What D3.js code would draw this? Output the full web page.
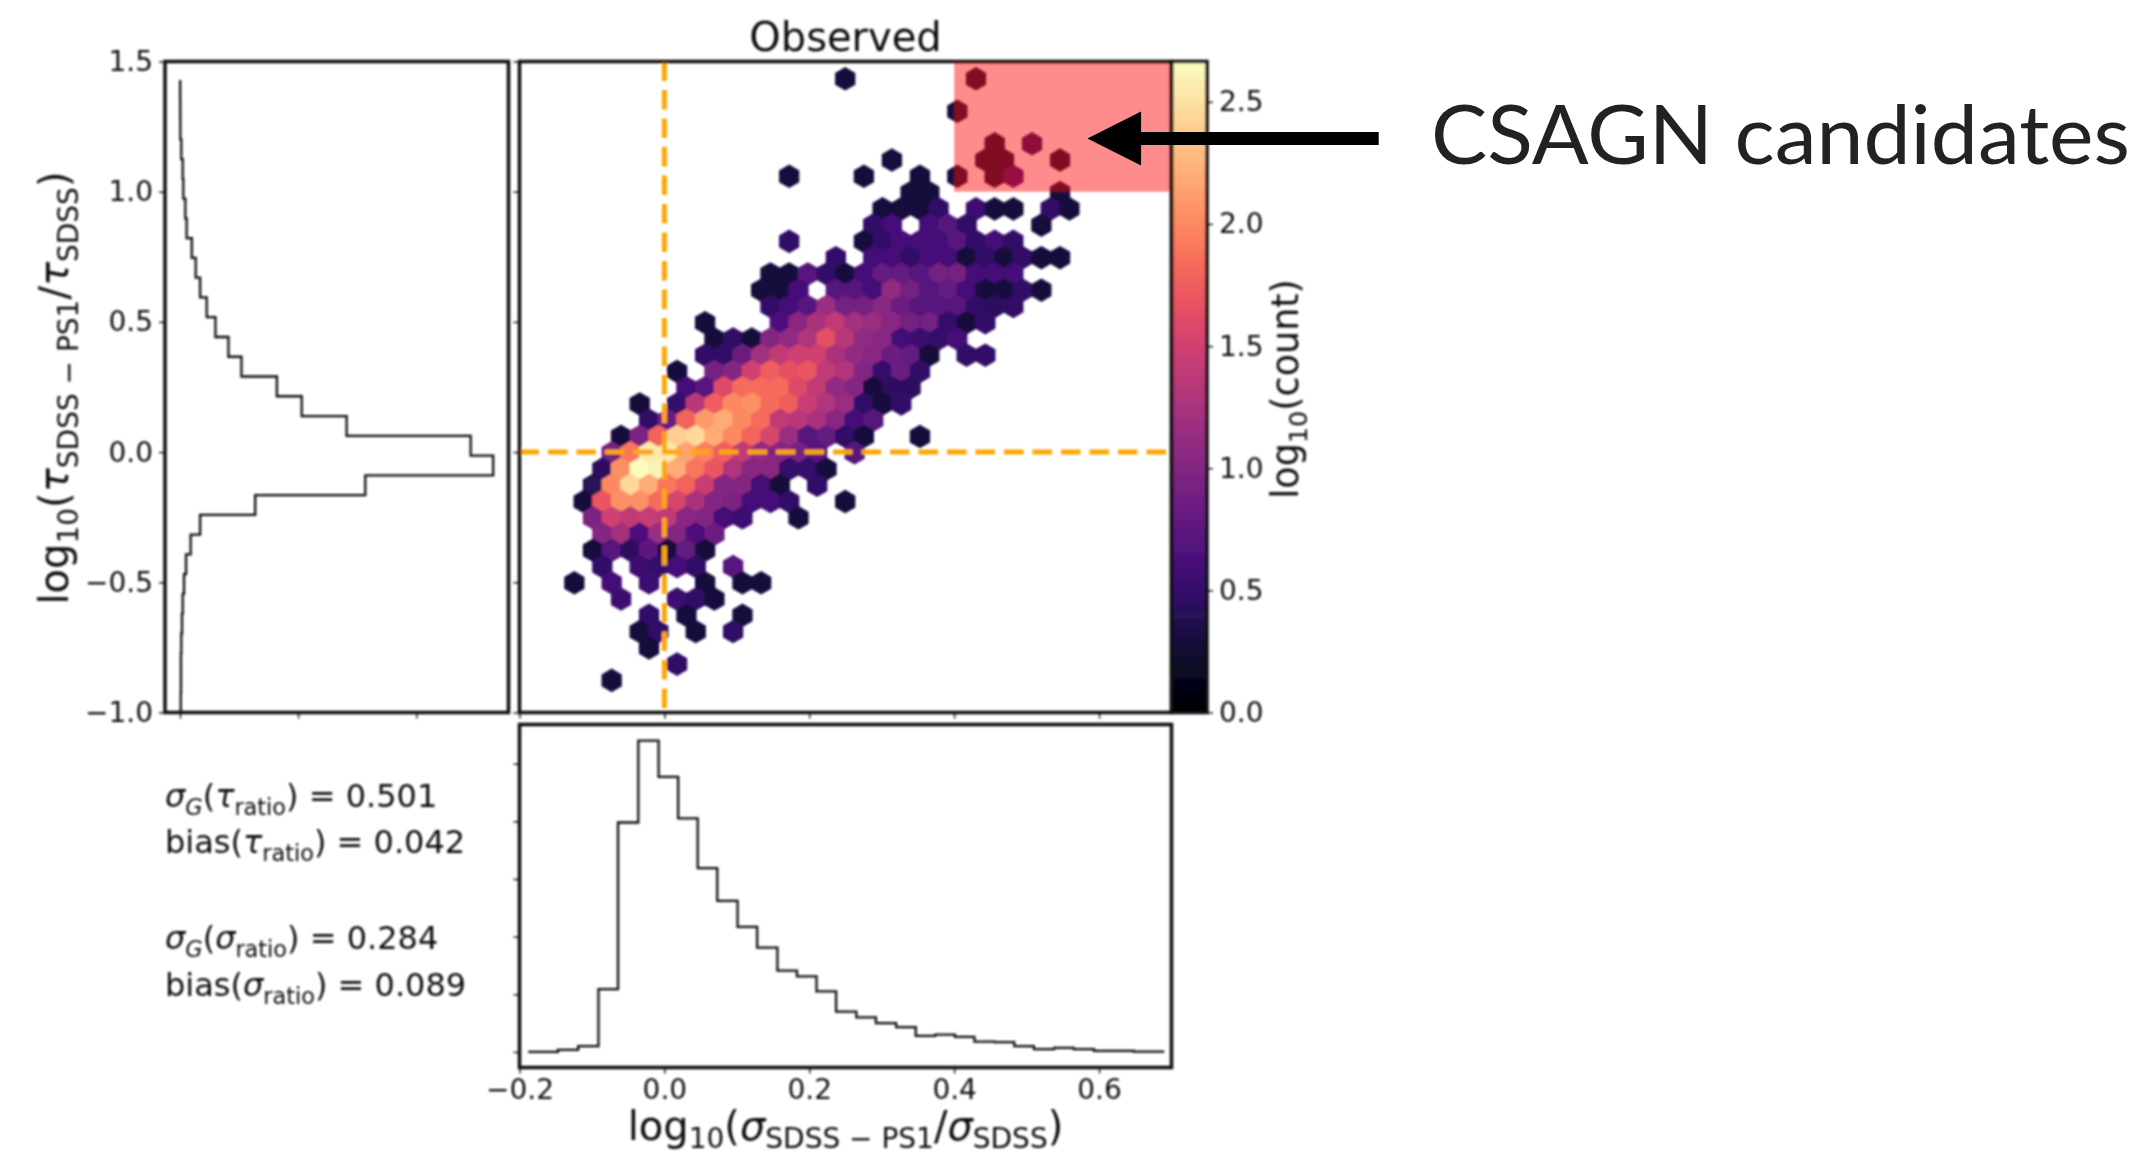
<!DOCTYPE html>
<html>
<head>
<meta charset="utf-8">
<script src="https://cdn.jsdelivr.net/npm/d3@7"></script>
<style>
  html, body { margin: 0; background: #fff; }
  svg { display: block; }
  text { font-family: "DejaVu Sans", sans-serif; fill: #111; }
</style>
</head>
<body>
<svg id="chart" width="2146" height="1155"></svg>
<script>
// Hex grid: one entry per row from the top, columns count half a hex width
let hexOriginX = 0.2496
let hexOriginY = 1.4336
let hexHalfWidth = 0.012894
let hexRowStep = 0.06244

let hexCols = [
  [0, 14], [], [12], [], [16, 20],
  [5, 15, 17, 23],
  [-6, 2, 8, 12, 16, 18],
  [7, 9, 23],
  [4, 6, 8, 10, 14, 16, 18, 22, 24],
  [3, 5, 9, 11, 13, 21],
  [-6, 2, 4, 6, 8, 10, 12, 14, 16, 18],
  [-1, 3, 5, 7, 9, 11, 13, 15, 17, 19, 21, 23],
  [-8, -6, -4, -2, 0, 2, 4, 6, 8, 10, 12, 14, 16, 18],
  [-9, -7, -5, -1, 1, 3, 5, 7, 9, 11, 13, 15, 17, 19, 21],
  [-8, -6, -4, -2, 0, 2, 4, 6, 8, 10, 12, 14, 16, 18],
  [-15, -7, -5, -3, -1, 1, 3, 5, 7, 9, 11, 13, 15],
  [-14, -12, -10, -8, -6, -4, -2, 0, 2, 4, 6, 8, 10, 12],
  [-15, -13, -11, -9, -7, -5, -3, -1, 1, 3, 5, 7, 9, 13, 15],
  [-18, -14, -12, -10, -8, -6, -4, -2, 0, 2, 4, 6, 8],
  [-17, -15, -13, -11, -9, -7, -5, -3, -1, 1, 3, 5, 7],
  [-22, -18, -16, -14, -12, -10, -8, -6, -4, -2, 0, 2, 4, 6],
  [-21, -19, -17, -15, -13, -11, -9, -7, -5, -3, -1, 1, 3],
  [-24, -22, -20, -18, -16, -14, -12, -10, -8, -6, -4, -2, 0, 2, 8],
  [-25, -23, -21, -19, -17, -15, -13, -11, -9, -7, -5, -3, 1],
  [-26, -24, -22, -20, -18, -16, -14, -12, -10, -8, -6, -4, -2],
  [-27, -25, -23, -21, -19, -17, -15, -13, -11, -9, -7, -3],
  [-28, -26, -24, -22, -20, -18, -16, -14, -12, -10, -8, -6, 0],
  [-27, -25, -23, -21, -19, -17, -15, -13, -11, -5],
  [-26, -24, -22, -20, -18, -16, -14],
  [-27, -25, -23, -21, -19, -17, -15],
  [-26, -22, -20, -18, -16, -12],
  [-29, -25, -21, -15, -11, -9],
  [-24, -18, -16, -14],
  [-21, -17, -11],
  [-22, -20, -16, -12],
  [-21],
  [-18],
  [-25]
]

let hexVals = [
  [0.3, 0.3], [], [0.3], [], [0.3, 0.48],
  [0.3, 0.3, 0.3, 0.3],
  [0.3, 0.3, 0.3, 0.3, 0.3, 0.6],
  [0.3, 0.3, 0.3],
  [0.3, 0.3, 0.3, 0.48, 0.55, 0.3, 0.3, 0.48, 0.3],
  [0.48, 0.6, 0.6, 0.7, 0.48, 0.3],
  [0.48, 0.3, 0.48, 0.6, 0.6, 0.6, 0.7, 0.48, 0.6, 0.48],
  [0.48, 0.6, 0.6, 0.48, 0.6, 0.6, 0.3, 0.48, 0.3, 0.48, 0.3, 0.3],
  [0.3, 0.3, 0.7, 0.48, 0.3, 0.6, 0.8, 0.8, 0.7, 0.9, 0.9, 0.6, 0.6, 0.6],
  [0.3, 0.3, 0.6, 0.7, 0.7, 0.6, 1.1, 0.9, 0.7, 0.8, 0.6, 0.3, 0.3, 0.48, 0.3],
  [0.48, 0.6, 0.7, 1.15, 0.9, 0.9, 1.05, 0.85, 0.7, 0.7, 0.7, 0.48, 0.45, 0.48],
  [0.3, 0.65, 1.05, 1.25, 1.4, 1.2, 1.15, 1.05, 0.9, 0.9, 0.5, 0.3, 0.48],
  [0.3, 0.48, 0.3, 1, 1.1, 1.3, 1.65, 1.35, 1.1, 1.05, 0.6, 0.55, 0.5, 0.6],
  [0.48, 0.48, 0.85, 1.2, 1.4, 1.5, 1.5, 1.25, 1.1, 1.05, 0.85, 0.8, 0.3, 0.48, 0.48],
  [0.3, 0.9, 1, 1.5, 1.75, 1.65, 1.7, 1.4, 1.3, 1, 0.5, 0.85, 0.48],
  [0.6, 0.7, 1.6, 1.85, 1.85, 1.85, 1.6, 1.4, 1.1, 1, 0.3, 0.45, 0.45],
  [0.3, 0.5, 1.35, 1.75, 2, 2.05, 1.85, 1.75, 1.45, 1.3, 1.15, 0.48, 0.3, 0.48],
  [0.48, 0.85, 1.8, 2.1, 2.2, 2, 1.85, 1.4, 1.35, 1.25, 1.05, 0.6, 0.7],
  [0.3, 0.95, 1.8, 2.4, 2.45, 2.2, 2, 1.8, 1.55, 1.15, 0.7, 0.8, 0.48, 0.3, 0.3],
  [0.9, 1.9, 2.55, 2.55, 2.15, 1.95, 1.75, 1.4, 1.1, 1, 0.9, 0.7, 0.7],
  [0.45, 2.05, 2.65, 2.6, 2.2, 1.9, 1.7, 1.3, 1.05, 1.05, 0.5, 0.5, 0.3],
  [0.4, 2, 2.45, 2.2, 1.9, 1.8, 1.45, 1, 1, 0.6, 0.3, 0.48],
  [0.3, 1.7, 2.05, 2.05, 1.85, 1.55, 1.25, 1, 0.95, 0.6, 0.6, 0.48, 0.3],
  [0.95, 1.5, 1.4, 1.45, 1.4, 1.05, 1, 0.6, 0.55, 0.3],
  [1, 1.2, 0.65, 1.15, 1, 0.65, 0.85],
  [0.3, 0.7, 0.45, 0.75, 0.3, 0.8, 0.3],
  [0.48, 0.55, 0.5, 0.6, 0.48, 0.7],
  [0.3, 0.6, 0.55, 0.3, 0.3, 0.3],
  [0.55, 0.55, 0.48, 0.3],
  [0.48, 0.3, 0.3],
  [0.3, 0.48, 0.3, 0.48],
  [0.3],
  [0.48],
  [0.3]
]

// Marginal histogram of the tau ratio, bins from the bottom
let tauStart = -1
let tauBinWidth = 0.0759
let tauCounts = [0.006, 0.008, 0.008, 0.011, 0.017, 0.023, 0.034, 0.051, 0.09, 0.17, 0.636, 1.568,
  2.65, 2.46, 1.41, 1.03, 0.82, 0.52, 0.41, 0.3, 0.226, 0.17, 0.133, 0.1, 0.056, 0.045, 0.028,
  0.023, 0.011, 0.003, 0.002, 0.001]

// Marginal histogram of the sigma ratio
let sigmaEdges = [-0.188, -0.147, -0.119, -0.091, -0.064, -0.036, -0.008, 0.019, 0.046, 0.073, 0.101,
  0.128, 0.156, 0.183, 0.21, 0.237, 0.265, 0.292, 0.32, 0.347, 0.374, 0.401, 0.428, 0.456, 0.483,
  0.51, 0.538, 0.565, 0.593, 0.62, 0.648, 0.69]
let sigmaCounts = [0, 0.035, 0.1, 1.09, 3.98, 5.4, 4.77, 4.05, 3.19, 2.62, 2.17, 1.81, 1.41, 1.31, 1.05,
  0.7, 0.6, 0.5, 0.43, 0.28, 0.3, 0.26, 0.18, 0.17, 0.1, 0.05, 0.07, 0.05, 0.02, 0.02, 0.005]

let xTicks = [-0.2, 0, 0.2, 0.4, 0.6]
let yTicks = [-1, -0.5, 0, 0.5, 1, 1.5]
let colorTicks = [0, 0.5, 1, 1.5, 2, 2.5]
let tauCountTicks = [0, 1, 2]
let sigmaCountTicks = [0, 1, 2, 3, 4, 5]
let colorMax = 2.665

let candidateX = [0.4, 0.7]
let candidateY = [1, 1.5]
let arrowY = 1.204
let arrowX = [0.584, 0.658, 0.986]

let statLines = [
  [['σ', 'i'], ['G', 'si'], ['('], ['τ', 'i'], ['ratio', 's'], [') = 0.501']],
  [['bias('], ['τ', 'i'], ['ratio', 's'], [') = 0.042']],
  [['σ', 'i'], ['G', 'si'], ['('], ['σ', 'i'], ['ratio', 's'], [') = 0.284']],
  [['bias('], ['σ', 'i'], ['ratio', 's'], [') = 0.089']]
]
let statBaselines = [807, 853, 949, 996]

let svg = d3.select('#chart')

// Soft filter, the source figure is a resampled screenshot
svg.append('defs').append('filter')
    .attr('id', 'soft')
    .attr('filterUnits', 'userSpaceOnUse')
    .attr('x', 0).attr('y', 0).attr('width', 2146).attr('height', 1155)
  .append('feGaussianBlur')
    .attr('stdDeviation', 0.8)

let plot = svg.append('g').attr('filter', 'url(#soft)')

let main = { left: 519.5, right: 1171.5, top: 61.5, bottom: 712.5 }
let side = { left: 165, right: 508.5 }
let lower = { top: 724.5, bottom: 1067.5 }
let bar = { left: 1171.5, right: 1207 }

let x = d3.scaleLinear().domain([-0.2, 0.7]).range([main.left, main.right])
let y = d3.scaleLinear().domain([-1, 1.5]).range([main.bottom, main.top])
let tauX = d3.scaleLinear().domain([-0.127, 2.78]).range([side.left, side.right])
let sigmaY = d3.scaleLinear().domain([-0.27, 5.68]).range([lower.bottom, lower.top])
let colorY = d3.scaleLinear().domain([0, colorMax]).range([main.bottom, main.top])
let color = v => d3.interpolateMagma(v / colorMax)

// Hexbin cells
let cells = []
hexCols.forEach((cols, r) => {
  cols.forEach((k, i) => {
    cells.push({
      cx: hexOriginX + k * hexHalfWidth,
      cy: hexOriginY - r * hexRowStep,
      v: hexVals[r][i]
    })
  })
})

let hexPath = d => {
  let px = x(d.cx)
  let py = y(d.cy)
  let w = x(hexHalfWidth) - x(0)
  let h = (y(0) - y(hexRowStep)) * 2 / 3
  return d3.line()([
    [px + w, py + h / 2], [px + w, py - h / 2], [px, py - h],
    [px - w, py - h / 2], [px - w, py + h / 2], [px, py + h]
  ]) + 'Z'
}

plot.append('g').selectAll('path')
  .data(cells)
  .join('path')
    .attr('d', hexPath)
    .attr('fill', d => color(d.v))
    .attr('stroke', d => color(d.v))
    .attr('stroke-width', 1.6)

// Reference lines
let refLines = plot.append('g')
    .attr('stroke', '#ffa500')
    .attr('stroke-width', 5)
    .attr('stroke-dasharray', '19.5,9')
refLines.append('line')
    .attr('x1', x(0)).attr('x2', x(0))
    .attr('y1', main.top).attr('y2', main.bottom)
refLines.append('line')
    .attr('x1', main.left).attr('x2', main.right)
    .attr('y1', y(0)).attr('y2', y(0))

// Candidate box
plot.append('rect')
    .attr('x', x(candidateX[0]))
    .attr('y', y(candidateY[1]))
    .attr('width', x(candidateX[1]) - x(candidateX[0]))
    .attr('height', y(candidateY[0]) - y(candidateY[1]))
    .attr('fill', 'red')
    .attr('fill-opacity', 0.45)

// Colorbar
let barSteps = d3.range(0, colorMax, colorMax / 256)
plot.append('g').selectAll('rect')
  .data(barSteps)
  .join('rect')
    .attr('x', bar.left)
    .attr('width', bar.right - bar.left)
    .attr('y', d => colorY(d + colorMax / 256))
    .attr('height', (main.bottom - main.top) / 256 + 1)
    .attr('fill', d => color(d))
    .attr('shape-rendering', 'crispEdges')

// Marginal histograms
let tauPoints = tauCounts.flatMap((c, i) => [
  [tauX(c), y(tauStart + i * tauBinWidth)],
  [tauX(c), y(tauStart + (i + 1) * tauBinWidth)]
])
plot.append('path')
    .attr('d', d3.line()(tauPoints))
    .attr('fill', 'none')
    .attr('stroke', '#111')
    .attr('stroke-width', 2.3)

let sigmaPoints = sigmaCounts.flatMap((c, i) => [
  [x(sigmaEdges[i]), sigmaY(c)],
  [x(sigmaEdges[i + 1]), sigmaY(c)]
])
plot.append('path')
    .attr('d', d3.line()(sigmaPoints))
    .attr('fill', 'none')
    .attr('stroke', '#111')
    .attr('stroke-width', 2.3)

// Axes
let minus = f => v => d3.format(f)(v).replace('-', '\u2212')

function addAxis (axis, tx, ty, noLabels) {
  let g = plot.append('g')
      .attr('transform', 'translate(' + tx + ',' + ty + ')')
      .call(axis.tickSize(6).tickPadding(6))
  g.select('.domain').remove()
  g.selectAll('.tick line').attr('stroke', '#222').attr('stroke-width', 1.5)
  g.selectAll('.tick text')
      .attr('fill', '#111')
      .style('font-family', '"DejaVu Sans", sans-serif')
      .style('font-size', '28px')
  if (noLabels) g.selectAll('.tick text').remove()
  return g
}

addAxis(d3.axisLeft(y).tickValues(yTicks).tickFormat(minus('.1f')), side.left, 0)
addAxis(d3.axisBottom(tauX).tickValues(tauCountTicks), 0, main.bottom, true)
addAxis(d3.axisLeft(y).tickValues(yTicks), main.left, 0, true)
addAxis(d3.axisBottom(x).tickValues(xTicks), 0, main.bottom, true)
addAxis(d3.axisLeft(sigmaY).tickValues(sigmaCountTicks), main.left, 0, true)
addAxis(d3.axisBottom(x).tickValues(xTicks).tickFormat(minus('.1f')), 0, lower.bottom)
addAxis(d3.axisRight(colorY).tickValues(colorTicks).tickFormat(minus('.1f')), bar.right, 0)

// Panel frames
let frames = [
  [side.left, main.top, side.right, main.bottom],
  [main.left, main.top, main.right, main.bottom],
  [main.left, lower.top, main.right, lower.bottom],
  [bar.left, main.top, bar.right, main.bottom]
]
plot.append('g').selectAll('rect')
  .data(frames)
  .join('rect')
    .attr('x', d => d[0])
    .attr('y', d => d[1])
    .attr('width', d => d[2] - d[0])
    .attr('height', d => d[3] - d[1])
    .attr('fill', 'none')
    .attr('stroke', '#111')
    .attr('stroke-width', 3.5)

// Labels with sub- and italic runs
function mathText (sel, parts, size, subShift = 0.24) {
  let shift = 0
  parts.forEach(p => {
    let style = p[1] || ''
    let sub = style.includes('s')
    let target = sub ? size * subShift : 0
    sel.append('tspan')
        .attr('dy', target - shift)
        .style('font-size', (sub ? size * 0.7 : size) + 'px')
        .style('font-style', style.includes('i') ? 'italic' : 'normal')
        .text(p[0])
    shift = target
  })
}

let labelSize = 40
plot.append('text')
    .attr('x', (main.left + main.right) / 2)
    .attr('y', 51)
    .attr('text-anchor', 'middle')
    .style('font-size', '40px')
    .text('Observed')

let xLabel = plot.append('text')
    .attr('x', (main.left + main.right) / 2)
    .attr('y', 1140)
    .attr('text-anchor', 'middle')
mathText(xLabel, [['log'], ['10', 's'], ['('], ['σ', 'i'], ['SDSS \u2212 PS1', 's'], ['/'], ['σ', 'i'], ['SDSS', 's'], [')']], labelSize, 0.2)

let yLabel = plot.append('text')
    .attr('transform', 'translate(68,388) rotate(-90)')
    .attr('text-anchor', 'middle')
mathText(yLabel, [['log'], ['10', 's'], ['('], ['τ', 'i'], ['SDSS \u2212 PS1', 's'], ['/'], ['τ', 'i'], ['SDSS', 's'], [')']], labelSize)

let colorLabel = plot.append('text')
    .attr('transform', 'translate(1298,389) rotate(-90)')
    .attr('text-anchor', 'middle')
mathText(colorLabel, [['log'], ['10', 's'], ['(count)']], 36.5)

statLines.forEach((line, i) => {
  let t = plot.append('text')
      .attr('x', 165)
      .attr('y', statBaselines[i])
  mathText(t, line, 32)
})

// Annotation on top, it stays sharp
let note = svg.append('g')
note.append('path')
    .attr('d', () => {
      let ay = y(arrowY)
      return d3.line()([
        [x(arrowX[0]), ay], [x(arrowX[1]), ay - 27], [x(arrowX[1]), ay - 6.5],
        [x(arrowX[2]), ay - 6.5], [x(arrowX[2]), ay + 6.5], [x(arrowX[1]), ay + 6.5],
        [x(arrowX[1]), ay + 27]
      ]) + 'Z'
    })
    .attr('fill', '#000')

note.append('text')
    .attr('x', 1431)
    .attr('y', 164)
    .attr('textLength', 699)
    .attr('lengthAdjust', 'spacingAndGlyphs')
    .style('font-family', 'Lato, sans-serif')
    .style('font-size', '81px')
    .style('fill', '#222')
    .text('CSAGN candidates')
</script>
</body>
</html>
